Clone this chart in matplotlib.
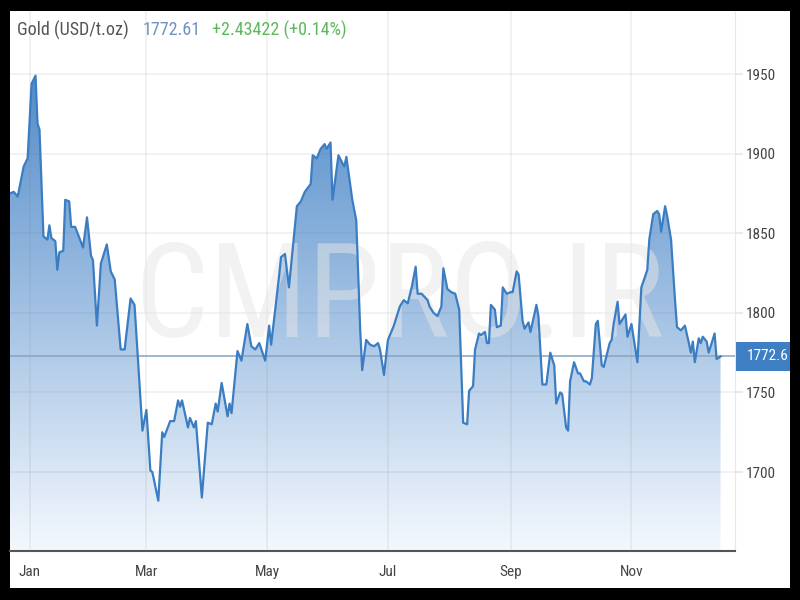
import matplotlib
matplotlib.use('Agg')
import matplotlib.pyplot as plt
import numpy as np
from matplotlib.patches import Rectangle, Polygon
from matplotlib import font_manager
import matplotlib.transforms as mtransforms

# ---- data (day offset from 1 Jan, gold price USD/t.oz) ----
days = [-10, -8, -6, -3, -1, 1, 3, 4, 5, 7, 9, 10, 11, 13, 14, 15, 17, 18, 20, 21,
        23, 27, 29, 31, 32, 34, 36, 39, 41, 43, 46, 48, 51, 53, 57, 59, 61, 62, 65, 67,
        68, 71, 73, 75, 76, 77, 80, 81, 83, 84, 87, 90, 92, 94, 95, 97, 100, 101, 102, 105,
        107, 110, 112, 114, 116, 119, 121, 122, 126, 127, 129, 131, 135, 137, 139, 142, 143, 145, 147, 149,
        150, 152, 153, 156, 158, 159, 160, 163, 165, 167, 168, 170, 172, 174, 176, 177, 179, 181, 184, 187,
        189, 191, 193, 195, 196, 198, 201, 202, 204, 206, 208, 209, 211, 213, 215, 217, 219, 221, 222, 224,
        225, 227, 228, 230, 231, 232, 233, 235, 236, 238, 239, 241, 243, 244, 246, 247, 249, 250, 252, 253,
        256, 257, 259, 261, 263, 265, 266, 268, 269, 271, 272, 273, 275, 277, 278, 280, 281, 283, 284, 286,
        287, 289, 290, 291, 293, 294, 295, 297, 298, 301, 302, 304, 305, 307, 309, 312, 313, 315, 317, 318,
        319, 321, 322, 324, 326, 327, 329, 331, 333, 334, 335, 336, 338, 339, 340, 342, 343, 345, 346, 347,
        349]
prices = [1875, 1876, 1873, 1892, 1897, 1944, 1949, 1919, 1915, 1848, 1846, 1855, 1847, 1845, 1827, 1838, 1839, 1871, 1870, 1854,
          1854, 1841, 1860, 1836, 1833, 1792, 1831, 1843, 1826, 1821, 1777, 1777, 1809, 1805, 1726, 1739, 1701, 1700, 1682, 1725,
          1722, 1732, 1732, 1745, 1741, 1745, 1728, 1734, 1728, 1732, 1684, 1731, 1730, 1743, 1738, 1756, 1735, 1743, 1737, 1776,
          1770, 1793, 1779, 1777, 1781, 1770, 1792, 1780, 1823, 1835, 1837, 1816, 1867, 1870, 1876, 1881, 1899, 1897, 1903, 1906,
          1903, 1907, 1871, 1899, 1894, 1892, 1898, 1871, 1858, 1789, 1764, 1783, 1780, 1779, 1781, 1777, 1761, 1783, 1792, 1804,
          1808, 1806, 1816, 1829, 1812, 1812, 1808, 1804, 1800, 1798, 1804, 1828, 1815, 1813, 1812, 1802, 1731, 1730, 1751, 1754,
          1777, 1787, 1786, 1788, 1781, 1781, 1805, 1802, 1791, 1792, 1816, 1812, 1813, 1813, 1826, 1824, 1795, 1790, 1794, 1788,
          1805, 1798, 1755, 1755, 1775, 1767, 1743, 1750, 1749, 1728, 1726, 1757, 1769, 1762, 1762, 1757, 1757, 1755, 1759, 1793,
          1795, 1767, 1766, 1771, 1781, 1783, 1793, 1807, 1793, 1799, 1785, 1793, 1785, 1769, 1816, 1827, 1846, 1862, 1864, 1862,
          1851, 1867, 1861, 1846, 1808, 1791, 1789, 1792, 1781, 1775, 1782, 1769, 1784, 1781, 1785, 1782, 1775, 1783, 1787, 1771,
          1772.6]
month_ticks = [0, 59, 120, 181, 243, 304]
month_labels = ['Jan', 'Mar', 'May', 'Jul', 'Sep', 'Nov']
y_ticks = [1700, 1750, 1800, 1850, 1900, 1950]
last_price = 1772.6
header_price = 1772.61
header_change = 2.43422
header_pct = 0.14

fams = {f.name for f in font_manager.fontManager.ttflist}
narrow = None
for cand in ['Liberation Sans Narrow', 'Roboto Condensed', 'DejaVu Sans Condensed']:
    if cand in fams:
        narrow = cand
        break
base = narrow if narrow else 'Liberation Sans'
plt.rcParams['font.family'] = [base, 'DejaVu Sans']
scale = 1.0 if narrow else 0.85  # compensate width when no narrow face

W, H = 800, 600
fig = plt.figure(figsize=(8, 6), dpi=100, facecolor='black')
fig.patches.append(Rectangle((9.5 / W, 1 - 587.7 / H), (790 - 9.5) / W, (587.7 - 10.7) / H,
                             transform=fig.transFigure, facecolor='white', edgecolor='none', zorder=-5))

ax = fig.add_axes([10 / W, 1 - 551 / H, 725 / W, (551 - 10.7) / H])
ax.set_facecolor('none')
ax.set_zorder(2)
x0, x1 = -9.9, 356.3
y0, y1 = 1650.4, 1989.8
ax.set_xlim(x0, x1)
ax.set_ylim(y0, y1)

# gradient fill under the line
verts = np.column_stack([np.r_[days[0], days, days[-1]], np.r_[y0, prices, y0]])
clip = Polygon(verts, closed=True, transform=ax.transData, facecolor='none', edgecolor='none')
ax.add_patch(clip)
top_c = np.array([60, 125, 195]) / 255
bot_c = np.array([244, 248, 253]) / 255
t = np.linspace(0, 1, 256)[:, None]
grad = (bot_c[None, :] * (1 - t) + top_c[None, :] * t)[:, None, :]
im = ax.imshow(grad, extent=[x0, x1, y0, y1], origin='lower', aspect='auto', zorder=1,
               interpolation='bilinear')
im.set_clip_path(clip)

ax.plot(days, prices, color='#3b7dc2', lw=1.6, zorder=4, solid_joinstyle='round')

# current price line
ax.axhline(last_price, color='#86a3c2', lw=1.1, zorder=3.5)

# grid
ax.set_axisbelow(False)
ax.set_xticks(month_ticks)
ax.set_xticklabels(month_labels)
ax.set_yticks(y_ticks)
ax.yaxis.tick_right()
ax.grid(True, color=(0.45, 0.45, 0.45), alpha=0.11, lw=1.2)
ax.tick_params(axis='x', length=0, pad=10, labelsize=11 * scale, labelcolor='#444444')
ax.tick_params(axis='y', length=6, width=1.2, color='#e6e6e6', pad=2, labelsize=11 * scale,
               labelcolor='#444444')

for s in ['top', 'left']:
    ax.spines[s].set_visible(False)
ax.spines['right'].set_color('#e8e8e8')
ax.spines['bottom'].set_color('#555555')
ax.spines['bottom'].set_linewidth(1.5)

# watermark
ax.text(0.538, 0.396, 'CMPRO.IR', transform=ax.transAxes, fontsize=94 if narrow else 80,
        color='#e6e6e6', alpha=0.5, ha='center', va='baseline', zorder=3)

# last price label box
trans = mtransforms.blended_transform_factory(ax.transAxes, ax.transData)
ax.add_patch(Rectangle((1.0015, last_price - 9.4), 0.08, 18.8, transform=trans,
                       facecolor='#3d7fc2', edgecolor='none', clip_on=False, zorder=5))
ax.text(1.016, last_price, f'{last_price:.1f}', transform=trans, color='white', fontsize=11 * scale,
        ha='left', va='center', zorder=6, clip_on=False)

# header
fy = 1 - 30 / H
hs = 13 if narrow else 11
fig.text(17 / W, fy, 'Gold (USD/t.oz)', color='#555555', fontsize=hs, va='center')
fig.text(143 / W, fy, f'{header_price:.2f}', color='#6f93c0', fontsize=hs, va='center')
fig.text(212 / W, fy, f'+{header_change:.5f} (+{header_pct:.2f}%)', color='#5cb85c', fontsize=hs, va='center')

# black frame on the right edge
fig.patches.append(Rectangle((790 / W, 0), 10 / W, 1, transform=fig.transFigure,
                             facecolor='black', edgecolor='none', zorder=10))

fig.savefig('out.png', dpi=100, facecolor='black')
